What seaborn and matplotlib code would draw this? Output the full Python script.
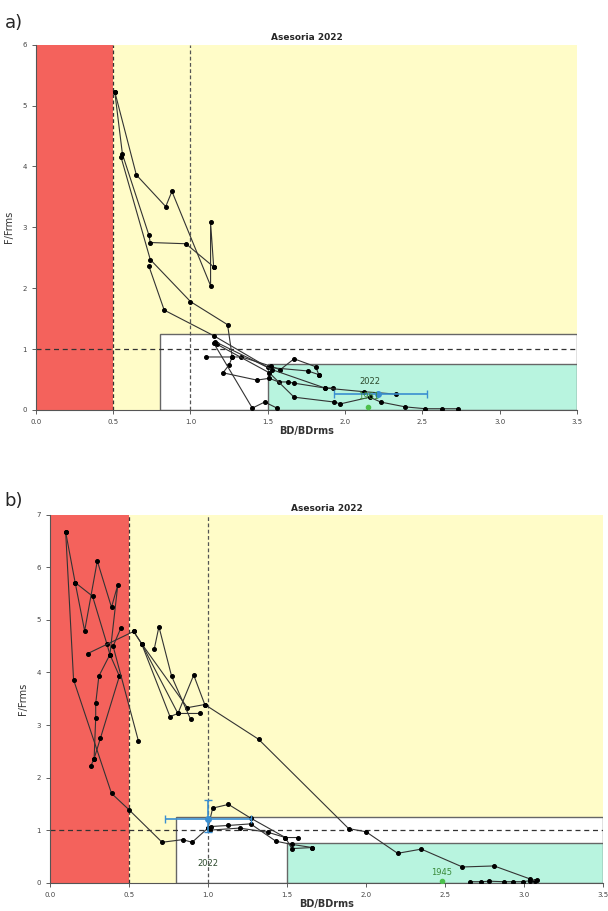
import seaborn as sns
import numpy as np
import pandas as pd
import matplotlib as mpl
import matplotlib.pyplot as plt
from matplotlib.patches import Rectangle

# ---- panel a) trajectories (BD/BDrms, F/Frms) ----
a_traj = [
    [(0.51, 5.23), (0.65, 3.86), (0.84, 3.34), (0.88, 3.59), (1.13, 2.04), (1.13, 3.08), (1.15, 2.35)],
    [(0.51, 5.23), (0.56, 4.20), (0.73, 2.88), (0.74, 2.75), (0.97, 2.73), (1.15, 2.35)],
    [(0.55, 4.16), (0.74, 2.47), (1.00, 1.78), (1.24, 1.40), (1.27, 0.87), (1.25, 0.74), (1.21, 0.61),
     (1.43, 0.49), (1.51, 0.52), (1.57, 0.46), (1.63, 0.46), (1.67, 0.44), (1.87, 0.36), (1.92, 0.36)],
    [(0.73, 2.37), (0.83, 1.64), (1.15, 1.22), (1.50, 0.70), (1.76, 0.64), (1.83, 0.58)],
    [(1.10, 0.87), (1.27, 0.87), (1.33, 0.87), (1.52, 0.72), (1.58, 0.66), (1.67, 0.84), (1.81, 0.71), (1.83, 0.58)],
    [(1.15, 1.10), (1.40, 0.03), (1.48, 0.13), (1.56, 0.03)],
    [(1.17, 1.08), (1.51, 0.61), (1.67, 0.21), (1.93, 0.13), (1.97, 0.10), (2.16, 0.21), (2.23, 0.13),
     (2.39, 0.05), (2.52, 0.02), (2.63, 0.02), (2.73, 0.02)],
    [(1.16, 1.12), (1.53, 0.66), (1.87, 0.36), (2.12, 0.30), (2.33, 0.26)],
]
a_mean = (2.21, 0.26)
a_mean_xerr = (0.28, 0.32)
a_mean_label = "2022"
a_hist = (2.15, 0.05)
a_hist_label = "1961"

# ---- panel b) trajectories ----
b_traj = [
    [(0.10, 6.67), (0.15, 3.86), (0.39, 1.70), (0.50, 1.39), (0.71, 0.77), (0.84, 0.82), (0.90, 0.77), (1.00, 1.04)],
    [(0.10, 6.67), (0.16, 5.71), (0.22, 4.79), (0.30, 6.12), (0.39, 5.24), (0.43, 5.67), (0.38, 4.34),
     (0.31, 3.93), (0.29, 3.41), (0.29, 3.13), (0.28, 2.36), (0.26, 2.23)],
    [(0.16, 5.71), (0.27, 5.45), (0.36, 4.55), (0.38, 4.34), (0.44, 3.93), (0.32, 2.75), (0.28, 2.36)],
    [(0.24, 4.36), (0.53, 4.78), (0.58, 4.55), (0.76, 3.16), (0.81, 3.22), (0.95, 3.22)],
    [(0.45, 4.85), (0.40, 4.50), (0.56, 2.70)],
    [(0.53, 4.78), (0.58, 4.55), (0.87, 3.33), (0.98, 3.39), (1.32, 2.73), (1.89, 1.03), (2.00, 0.97),
     (2.20, 0.56), (2.35, 0.64), (2.61, 0.30), (2.81, 0.32), (3.04, 0.07), (3.07, 0.04)],
    [(0.66, 4.44), (0.69, 4.87), (0.77, 3.93), (0.89, 3.11)],
    [(0.58, 4.55), (0.81, 3.22), (0.91, 3.95), (0.98, 3.39)],
    [(1.00, 1.04), (1.03, 1.42), (1.13, 1.49), (1.27, 1.23), (1.49, 0.86), (1.57, 0.86)],
    [(1.02, 1.07), (1.13, 1.09), (1.27, 1.12), (1.43, 0.79), (1.53, 0.73), (1.66, 0.67)],
    [(1.01, 1.00), (1.20, 1.04), (1.38, 0.96), (1.49, 0.86), (1.53, 0.65), (1.66, 0.67)],
    [(2.66, 0.02), (2.73, 0.02), (2.78, 0.03), (2.87, 0.02), (2.93, 0.02), (2.99, 0.02), (3.04, 0.04), (3.08, 0.05)],
]
b_mean = (1.00, 1.22)
b_mean_xerr = (0.27, 0.27)
b_mean_yerr = (0.26, 0.35)
b_mean_label = "2022"
b_hist = (2.48, 0.03)
b_hist_label = "1945"

title = "Asesoria 2022"
xlab = "BD/BDrms"
ylab = "F/Frms"

sns.set_style("white")
plt.rcParams['font.family'] = ['DejaVu Sans']

RED = '#f4625c'
YEL = '#fffcc8'
TEAL = '#b8f4df'


def to_df(trajs):
    rows = []
    for i, t in enumerate(trajs):
        for x, y in t:
            rows.append((i, x, y))
    return pd.DataFrame(rows, columns=['traj', 'bd', 'f'])


def panel(ax, trajs, ymax, mean, xerr, yerr, mlabel, mlab_off, hist, hlabel):
    ax.add_patch(Rectangle((0, 0), 0.5, ymax, color=RED, zorder=0, lw=0))
    ax.add_patch(Rectangle((0.5, 0), 3.0, ymax, color=YEL, zorder=0, lw=0))
    ax.add_patch(Rectangle((0.8, 0), 2.7, 1.25, facecolor='white', edgecolor='#666666', lw=1.0, zorder=1))
    ax.add_patch(Rectangle((1.5, 0), 2.0, 0.75, facecolor=TEAL, edgecolor='#666666', lw=1.0, zorder=1))
    ax.axvline(0.5, color='#333333', ls=(0, (3, 2)), lw=0.9, zorder=2)
    ax.axvline(1.0, color='#555555', ls=(0, (3, 2)), lw=0.9, zorder=2)
    ax.axhline(1.0, color='#333333', ls=(0, (4, 3)), lw=0.9, zorder=2)

    df = to_df(trajs)
    sns.lineplot(data=df, x='bd', y='f', units='traj', estimator=None, sort=False,
                 color='#333333', lw=0.8, marker='o', markersize=2.8,
                 markeredgecolor='k', markerfacecolor='k', ax=ax, zorder=3, legend=False)

    ax.errorbar([mean[0]], [mean[1]], xerr=[[xerr[0]], [xerr[1]]],
                yerr=None if yerr is None else [[yerr[0]], [yerr[1]]],
                fmt='o', color='#3a8fd0', ms=4, lw=1.2, capsize=3, zorder=5)
    ax.text(mean[0] + mlab_off[0], mean[1] + mlab_off[1], mlabel, fontsize=6,
            color='#2d4a2d', ha='center', va='center', zorder=6)
    ax.plot([hist[0]], [hist[1]], marker='o', color='#4cc04c', ms=3, zorder=5)
    ax.text(hist[0], hist[1] + 0.17, hlabel, fontsize=6, color='#3a8a3a',
            ha='center', va='center', zorder=6)

    ax.set_xlim(0, 3.5)
    ax.set_ylim(0, ymax)
    ax.set_xticks(np.arange(0, 3.51, 0.5))
    ax.set_xticklabels([f"{v:.1f}" for v in np.arange(0, 3.51, 0.5)])
    ax.set_yticks(np.arange(0, ymax + 0.1, 1))
    ax.tick_params(axis='both', labelsize=5, length=3, width=0.6, direction='out',
                   bottom=True, left=True, colors='#444444')
    ax.set_title(title, fontsize=6.5, fontweight='bold', pad=3)
    ax.set_xlabel(xlab, fontsize=7, fontweight='bold', labelpad=1, color='#333333')
    ax.set_ylabel(ylab, fontsize=7, labelpad=6, color='#333333')
    for s in ['top', 'right']:
        ax.spines[s].set_visible(False)
    for s in ['left', 'bottom']:
        ax.spines[s].set_color('#555555')
        ax.spines[s].set_linewidth(0.8)


fig = plt.figure(figsize=(6.08, 9.11), dpi=100)
ax1 = fig.add_axes([0.059, 0.550, 0.890, 0.401])
ax2 = fig.add_axes([0.082, 0.031, 0.910, 0.404])

panel(ax1, a_traj, 6, a_mean, a_mean_xerr, None, a_mean_label, (-0.05, 0.2), a_hist, a_hist_label)
panel(ax2, b_traj, 7, b_mean, b_mean_xerr, b_mean_yerr, b_mean_label, (0.0, -0.85), b_hist, b_hist_label)

fig.text(0.008, 0.985, "a)", fontsize=13, va='top', ha='left')
fig.text(0.008, 0.46, "b)", fontsize=13, va='top', ha='left')

fig.savefig('out.png', dpi=100)
